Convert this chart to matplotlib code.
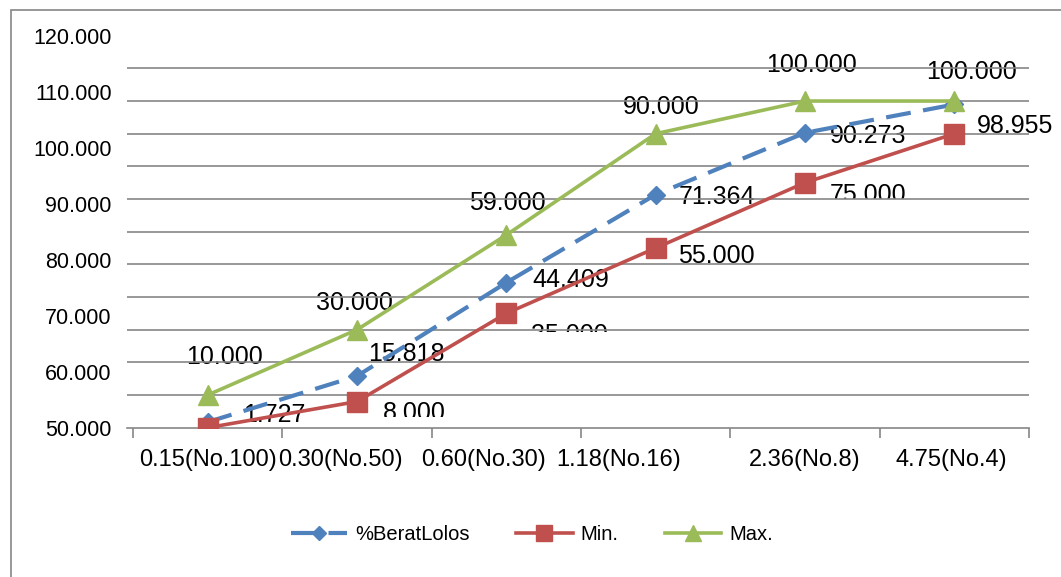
import numpy as np
import matplotlib
matplotlib.use("Agg")
from matplotlib import pyplot as plt
from matplotlib.patches import Rectangle
from matplotlib.transforms import Bbox

plt.rcParams['font.family'] = ['Liberation Sans', 'DejaVu Sans']

# data
categories = ["0.15(No.100)", "0.30(No.50)", "0.60(No.30)", "1.18(No.16)", "2.36(No.8)", "4.75(No.4)"]
berat_lolos = [1.727, 15.818, 44.409, 71.364, 90.273, 98.955]
min_vals = [0.0, 8.0, 35.0, 55.0, 75.0, 90.0]
max_vals = [10.0, 30.0, 59.0, 90.0, 100.0, 100.0]
ytick_labels = ["50.000", "60.000", "70.000", "80.000", "90.000", "100.000", "110.000", "120.000"]

# where the category labels sit (the odd Excel layout shifts some of them)
xlabel_pos = [0, 0.89, 1.85, 2.75, 4, 4.98]

# label offsets in pixels (dx, dy screen-down), None = label not shown
max_off = [(17, -38), (-3, -27), (1, -32), (6, -27), (7, -36), (17, -29)]
blue_off = [(67, -7), (49, -22), (64, -3), (61, 2), (63, 3), (61, 22)]
red_off = [None, (57, 11), (63, 22), (61, 8), (63, 12), None]
red_cut = [None, 4.5, -3.5, None, 4.5, None]   # clip this many px below label centre

W, H = 1061, 577
fig = plt.figure(figsize=(W / 100, H / 100), dpi=100)
ax = fig.add_axes([127 / W, 1 - 427.7 / H, (1029 - 127) / W, (427.7 - 35.7) / H])

grey = '#868686'
blue, red, green = '#4F81BD', '#C0504D', '#9BBB59'
x = np.arange(len(categories))

ax.plot(x, berat_lolos, color=blue, lw=3.0, dashes=(6, 3), marker='D', ms=9.5,
        mec=blue, mfc=blue, label='%BeratLolos', zorder=3)
ax.plot(x, min_vals, color=red, lw=2.6, marker='s', ms=14, mec=red, mfc=red,
        label='Min.', zorder=4)
ax.plot(x, max_vals, color=green, lw=2.6, marker='^', ms=14, mec=green, mfc=green,
        label='Max.', zorder=5)

# gridlines start a little left of the first category boundary
ax.set_xlim(-0.54, len(categories) - 0.5)
ax.set_ylim(0, 120)

# y axis: labels spread evenly, grid every 10
ax.set_yticks(np.linspace(0, 120, len(ytick_labels)))
ax.set_yticklabels(ytick_labels, fontsize=15.5)
ax.set_yticks(np.arange(0, 121, 10), minor=True)
ax.tick_params(axis='y', which='both', length=0, pad=11)
ax.grid(axis='y', which='minor', color=grey, lw=1.2)
ax.set_axisbelow(True)

ax.set_xticks(xlabel_pos)
ax.set_xticklabels(categories, fontsize=17)
ax.set_xticks(np.arange(-0.5, len(categories), 1), minor=True)
ax.tick_params(axis='x', which='major', length=0, pad=15)
ax.tick_params(axis='x', which='minor', length=7, width=1.2, color=grey, direction='out')

for s in ['top', 'right', 'left']:
    ax.spines[s].set_visible(False)
ax.spines['bottom'].set_color(grey)
ax.spines['bottom'].set_linewidth(1.2)

def put_labels(vals, offs):
    out = []
    for i, (v, o) in enumerate(zip(vals, offs)):
        if o is None:
            out.append(None)
            continue
        t = ax.annotate("%.3f" % v, (x[i], v), xytext=(o[0] * 0.72, -o[1] * 0.72),
                        textcoords='offset points', ha='center', va='center',
                        fontsize=18, zorder=0.4, annotation_clip=False)
        out.append(t)
    return out

put_labels(max_vals, max_off)
put_labels(berat_lolos, blue_off)
red_texts = put_labels(min_vals, red_off)

fig.legend(loc='center', bbox_to_anchor=(532 / W, 1 - 535 / H), ncol=3, frameon=False,
           fontsize=14.5, handlelength=2.8, handletextpad=0.4, columnspacing=2.3,
           markerscale=0.8)

# outer chart border (only left/top visible in the crop)
fig.patches.append(Rectangle((11 / W, -0.1), 1.5, 1.1 - 9.5 / H, transform=fig.transFigure,
                             fill=False, edgecolor=grey, lw=1.2))

# bottoms of some Min. labels are cut off in the original
fig.canvas.draw()
for t, c in zip(red_texts, red_cut):
    if t is None or c is None:
        continue
    bb = t.get_window_extent()
    cy = (bb.y0 + bb.y1) / 2
    t.set_clip_box(Bbox([[0, cy - c], [W, H]]))
    t.set_clip_on(True)

fig.savefig("out.png", dpi=100)
